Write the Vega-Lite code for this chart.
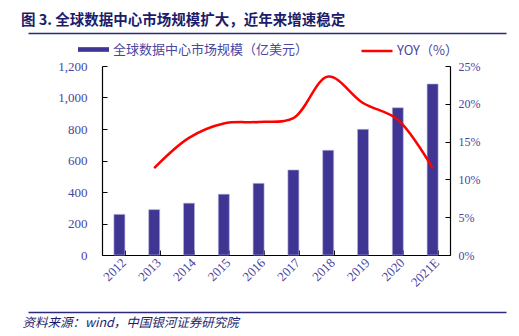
{
  "$schema": "https://vega.github.io/schema/vega-lite/v6.json",
  "width": 348,
  "height": 189,
  "autosize": "none",
  "padding": {"left": 102, "top": 66, "right": 69, "bottom": 81},
  "background": "white",
  "config": {
    "view": {"stroke": null},
    "font": "Noto Sans CJK SC"
  },
  "title": {
    "text": "图 3.  全球数据中心市场规模扩大，近年来增速稳定",
    "anchor": "start",
    "frame": "group",
    "dx": -81,
    "offset": 5,
    "font": "Noto Sans CJK SC",
    "fontSize": 14.5,
    "fontWeight": "bold",
    "color": "#1c1c6b"
  },
  "data": {
    "values": [
      {"year": "2012", "size": 258, "yoy": null},
      {"year": "2013", "size": 288, "yoy": 11.5},
      {"year": "2014", "size": 329, "yoy": 15.5},
      {"year": "2015", "size": 386, "yoy": 17.4},
      {"year": "2016", "size": 455, "yoy": 17.6},
      {"year": "2017", "size": 540, "yoy": 18.1},
      {"year": "2018", "size": 665, "yoy": 23.6},
      {"year": "2019", "size": 798, "yoy": 20.1},
      {"year": "2020", "size": 935, "yoy": 17.9},
      {"year": "2021E", "size": 1086, "yoy": 11.5}
    ]
  },
  "layer": [
    {
      "layer": [
        {
          "mark": {"type": "bar", "stroke": "#b9b6dd", "strokeWidth": 0.6},
          "encoding": {
            "x": {
              "field": "year", "type": "nominal", "sort": null,
              "scale": {"paddingInner": 0.684, "paddingOuter": 0.342},
              "axis": {
                "title": null,
                "labelAngle": -45,
                "labelFont": "Liberation Serif",
                "labelFontSize": 13,
                "labelColor": "#4b45a0",
                "labelPadding": 6,
                "tickBand": "extent",
                "tickSize": -5,
                "tickColor": "#000000",
                "domainColor": "#000000",
                "domainWidth": 1.2,
                "grid": false
              }
            },
            "y": {
              "field": "size", "type": "quantitative",
              "scale": {"domain": [0, 1200], "nice": false},
              "axis": {
                "title": null,
                "values": [0, 200, 400, 600, 800, 1000, 1200],
                "format": ",.0f",
                "labelFont": "Liberation Serif",
                "labelFontSize": 13,
                "labelColor": "#4b45a0",
                "labelPadding": 20,
                "tickSize": -5,
                "tickColor": "#000000",
                "domainColor": "#000000",
                "domainWidth": 1.2,
                "grid": false
              }
            },
            "fill": {
              "datum": "全球数据中心市场规模（亿美元）",
              "scale": {"range": ["#3f3592"]},
              "legend": {
                "title": null,
                "orient": "none",
                "legendX": -24,
                "legendY": -32,
                "symbolType": "M-1,-0.15H1V0.15H-1Z",
                "symbolSize": 961,
                "symbolStrokeWidth": 0,
                "labelFont": "Noto Sans CJK SC",
                "labelFontSize": 13,
                "labelLimit": 400,
                "labelColor": "#4b45a0",
                "labelOffset": 4
              }
            }
          }
        },
        {
          "mark": {"type": "line", "interpolate": "catmull-rom", "strokeWidth": 2.5},
          "encoding": {
            "x": {"field": "year", "type": "nominal", "sort": null},
            "y": {
              "field": "yoy", "type": "quantitative",
              "scale": {"domain": [0, 25], "nice": false},
              "axis": {
                "orient": "right",
                "title": null,
                "values": [0, 5, 10, 15, 20, 25],
                "labelExpr": "datum.value + '%'",
                "labelFont": "Liberation Serif",
                "labelFontSize": 12,
                "labelColor": "#4b45a0",
                "labelPadding": 13,
                "tickSize": -5,
                "tickColor": "#000000",
                "domainColor": "#000000",
                "domainWidth": 1.2,
                "grid": false
              }
            },
            "stroke": {
              "datum": "YOY（%）",
              "scale": {"range": ["#ff0000"]},
              "legend": {
                "title": null,
                "orient": "none",
                "legendX": 258,
                "legendY": -32,
                "symbolType": "stroke",
                "symbolSize": 961,
                "symbolStrokeWidth": 2.5,
                "labelFont": "Noto Sans CJK SC",
                "labelFontSize": 13,
                "labelLimit": 400,
                "labelColor": "#4b45a0",
                "labelOffset": 3
              }
            }
          }
        }
      ],
      "resolve": {"scale": {"y": "independent"}}
    },
    {
      "mark": {"type": "point", "opacity": 0},
      "encoding": {
        "x": {
          "field": "year", "type": "nominal", "sort": null,
          "scale": {"range": [-74, 404]},
          "axis": {
            "orient": "top",
            "offset": 33,
            "title": null,
            "labels": false,
            "ticks": false,
            "domainColor": "#2b2a7c",
            "domainWidth": 1.5,
            "grid": false
          }
        }
      }
    },
    {
      "mark": {"type": "point", "opacity": 0},
      "encoding": {
        "x": {
          "field": "year", "type": "nominal", "sort": null,
          "scale": {"range": [-74, 404]},
          "axis": {
            "orient": "bottom",
            "offset": 57,
            "title": "资料来源：wind，中国银河证券研究院",
            "titleAnchor": "start",
            "titleAlign": "left",
            "titleX": -80,
            "titlePadding": 4,
            "titleFont": "Noto Sans CJK SC",
            "titleFontSize": 12.5,
            "titleFontStyle": "italic",
            "titleFontWeight": "normal",
            "titleColor": "#1c1c6b",
            "labels": false,
            "ticks": false,
            "domainColor": "#2b2a7c",
            "domainWidth": 1.5,
            "grid": false
          }
        }
      }
    }
  ],
  "resolve": {"scale": {"x": "independent"}}
}
